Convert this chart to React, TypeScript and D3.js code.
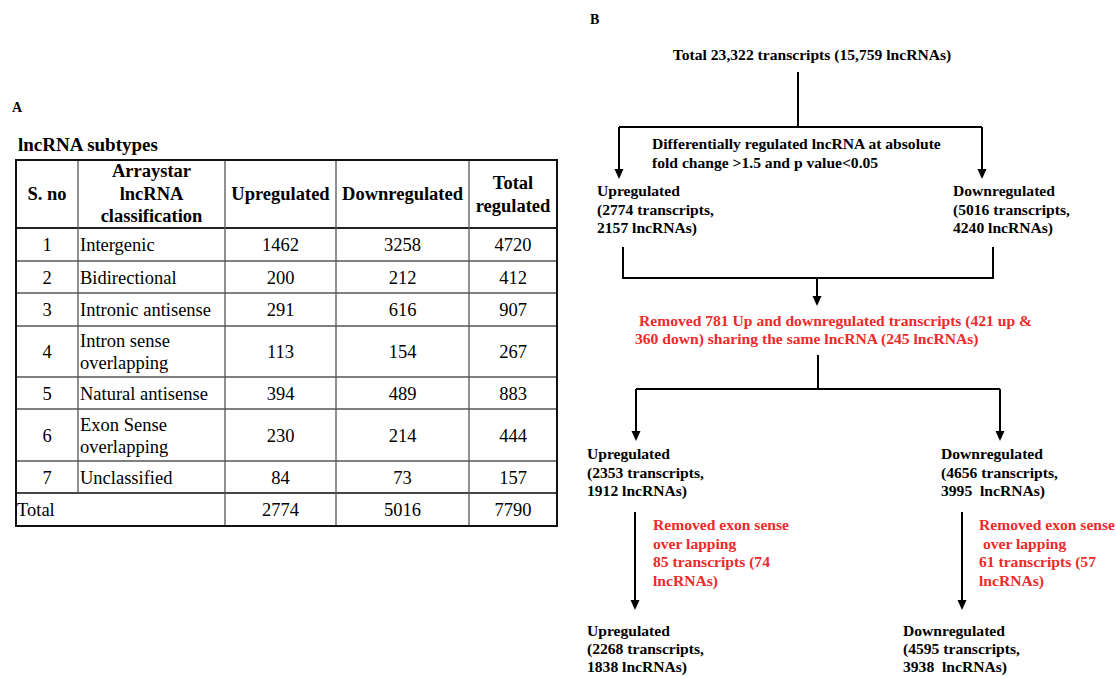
import React from "react";
import * as d3 from "d3";

// ---- Table A data ----
const serialNumbers = ["1", "2", "3", "4", "5", "6", "7"];
const classifications = [
  ["Intergenic"],
  ["Bidirectional"],
  ["Intronic antisense"],
  ["Intron sense", "overlapping"],
  ["Natural antisense"],
  ["Exon Sense", "overlapping"],
  ["Unclassified"],
];
const upregulated = [1462, 200, 291, 113, 394, 230, 84];
const downregulated = [3258, 212, 616, 154, 489, 214, 73];
const totalRegulated = [4720, 412, 907, 267, 883, 444, 157];
const columnTotals = [2774, 5016, 7790];

// ---- Flowchart B text ----
const rootText = "Total 23,322 transcripts (15,759 lncRNAs)";
const filterText = ["Differentially regulated lncRNA at absolute", "fold change >1.5 and p value<0.05"];
const upStage1 = ["Upregulated", "(2774 transcripts,", "2157 lncRNAs)"];
const downStage1 = ["Downregulated", "(5016 transcripts,", "4240 lncRNAs)"];
const sharedRemoved = [
  "Removed 781 Up and downregulated transcripts (421 up &",
  "360 down) sharing the same lncRNA (245 lncRNAs)",
];
const upStage2 = ["Upregulated", "(2353 transcripts,", "1912 lncRNAs)"];
const downStage2 = ["Downregulated", "(4656 transcripts,", "3995  lncRNAs)"];
const upExonRemoved = ["Removed exon sense", "over lapping", "85 transcripts (74", "lncRNAs)"];
const downExonRemoved = ["Removed exon sense", " over lapping", "61 transcripts (57", "lncRNAs)"];
const upStage3 = ["Upregulated", "(2268 transcripts,", "1838 lncRNAs)"];
const downStage3 = ["Downregulated", "(4595 transcripts,", "3938  lncRNAs)"];

const SERIF = "'Liberation Serif', 'Times New Roman', serif";
const RED = "#ee2a2a";
const FLOW_FS = 15.6;

// Table geometry
const colEdges = [16, 78, 225, 336, 469, 557];
const rowEdges = [160, 228, 261, 293, 326, 377, 409, 461, 493, 526];

const fmt = d3.format("d");

function Lines({ x, y, lines, step, anchor = "start", fill = "#000", size = FLOW_FS, weight = "bold" }: any) {
  return (
    <text x={x} y={y} fontFamily={SERIF} fontSize={size} fontWeight={weight} fill={fill} textAnchor={anchor}>
      {lines.map((l: string, i: number) => (
        <tspan key={i} x={x} y={y + i * step} style={{ whiteSpace: "pre" }}>
          {l}
        </tspan>
      ))}
    </text>
  );
}

function Arrow({ x, y1, y2 }: { x: number; y1: number; y2: number }) {
  const path = d3.path();
  path.moveTo(x, y1);
  path.lineTo(x, y2 - 9);
  const head = d3.path();
  head.moveTo(x - 4.5, y2 - 10);
  head.lineTo(x + 4.5, y2 - 10);
  head.lineTo(x, y2);
  head.closePath();
  return (
    <g>
      <path d={path.toString()} stroke="#000" strokeWidth={2} fill="none" />
      <path d={head.toString()} fill="#000" />
    </g>
  );
}

function Seg({ pts }: { pts: [number, number][] }) {
  const line = d3.line();
  return <path d={line(pts) || ""} stroke="#000" strokeWidth={2} fill="none" />;
}

function TableA() {
  const cx = (i: number) => (colEdges[i] + colEdges[i + 1]) / 2;
  const fs = 18.5;
  return (
    <g fontFamily={SERIF} fontSize={fs}>
      <text x={12} y={112} fontWeight="bold" fontSize={14}>A</text>
      <text x={18} y={151} fontWeight="bold" fontSize={19}>lncRNA subtypes</text>

      {/* inner horizontal rules */}
      {rowEdges.slice(2, rowEdges.length - 1).map((y, i) => (
        <line key={"h" + i} x1={colEdges[0]} x2={colEdges[5]} y1={y} y2={y} stroke="#555" strokeWidth={1.3} />
      ))}
      <line x1={colEdges[0]} x2={colEdges[5]} y1={rowEdges[1]} y2={rowEdges[1]} stroke="#222" strokeWidth={2.2} />
      <line x1={colEdges[0]} x2={colEdges[5]} y1={rowEdges[8]} y2={rowEdges[8]} stroke="#333" strokeWidth={1.6} />
      {/* inner vertical rules */}
      <line x1={colEdges[1]} x2={colEdges[1]} y1={rowEdges[0]} y2={rowEdges[8]} stroke="#555" strokeWidth={1.3} />
      {[2, 3, 4].map((c) => (
        <line key={"v" + c} x1={colEdges[c]} x2={colEdges[c]} y1={rowEdges[0]} y2={rowEdges[9]} stroke="#555" strokeWidth={1.3} />
      ))}
      {/* outer border */}
      <rect x={colEdges[0]} y={rowEdges[0]} width={colEdges[5] - colEdges[0]} height={rowEdges[9] - rowEdges[0]} fill="none" stroke="#111" strokeWidth={2} />

      {/* header */}
      <g fontWeight="bold" textAnchor="middle">
        <text x={cx(0)} y={200}>S. no</text>
        <Lines x={cx(1)} y={177} lines={["Arraystar", "lncRNA", "classification"]} step={22.5} anchor="middle" size={fs} />
        <text x={cx(2)} y={200}>Upregulated</text>
        <text x={cx(3)} y={200}>Downregulated</text>
        <Lines x={cx(4)} y={189} lines={["Total", "regulated"]} step={23} anchor="middle" size={fs} />
      </g>

      {/* body rows */}
      {serialNumbers.map((s, i) => {
        const top = rowEdges[i + 1];
        const bot = rowEdges[i + 2];
        const mid = (top + bot) / 2 + 6.5;
        const cls = classifications[i];
        return (
          <g key={s}>
            <text x={cx(0)} y={mid} textAnchor="middle">{s}</text>
            {cls.length === 1 ? (
              <text x={80} y={mid}>{cls[0]}</text>
            ) : (
              <Lines x={80} y={mid - 11} lines={cls} step={22} size={fs} weight="normal" />
            )}
            <text x={cx(2)} y={mid} textAnchor="middle">{fmt(upregulated[i])}</text>
            <text x={cx(3)} y={mid} textAnchor="middle">{fmt(downregulated[i])}</text>
            <text x={cx(4)} y={mid} textAnchor="middle">{fmt(totalRegulated[i])}</text>
          </g>
        );
      })}
      {/* totals row */}
      <text x={17} y={(rowEdges[8] + rowEdges[9]) / 2 + 6.5}>Total</text>
      {columnTotals.map((v, i) => (
        <text key={i} x={cx(i + 2)} y={(rowEdges[8] + rowEdges[9]) / 2 + 6.5} textAnchor="middle">{fmt(v)}</text>
      ))}
    </g>
  );
}

function FlowB() {
  const step = 18.5;
  return (
    <g>
      <text x={590} y={24} fontFamily={SERIF} fontWeight="bold" fontSize={14}>B</text>
      <text x={812} y={60} fontFamily={SERIF} fontWeight="bold" fontSize={FLOW_FS} textAnchor="middle">{rootText}</text>

      <Seg pts={[[798, 72], [798, 127]]} />
      <Seg pts={[[619, 127], [982, 127]]} />
      <Arrow x={619} y1={127} y2={179} />
      <Arrow x={982} y1={127} y2={179} />
      <Lines x={652} y={149} lines={filterText} step={19} />

      <Lines x={597} y={196} lines={upStage1} step={step} />
      <Lines x={953} y={196} lines={downStage1} step={step} />

      <Seg pts={[[623, 247], [623, 278], [993, 278], [993, 247]]} />
      <Arrow x={817} y1={278} y2={306} />
      <Lines x={639} y={326} lines={[sharedRemoved[0]]} step={step} fill={RED} />
      <Lines x={635} y={344} lines={[sharedRemoved[1]]} step={step} fill={RED} />

      <Seg pts={[[818, 355], [818, 389]]} />
      <Seg pts={[[636, 389], [1000, 389]]} />
      <Arrow x={636} y1={389} y2={441} />
      <Arrow x={1000} y1={389} y2={441} />

      <Lines x={587} y={459} lines={upStage2} step={step} />
      <Lines x={941} y={459} lines={downStage2} step={step} />

      <Arrow x={635} y1={512} y2={610} />
      <Arrow x={962} y1={512} y2={610} />
      <Lines x={653} y={530} lines={upExonRemoved} step={step} fill={RED} />
      <Lines x={979} y={530} lines={downExonRemoved} step={step} fill={RED} />

      <Lines x={587} y={636} lines={upStage3} step={18} />
      <Lines x={903} y={636} lines={downStage3} step={18} />
    </g>
  );
}

export default function App() {
  return (
    <svg
      width={1116}
      height={677}
      viewBox="0 0 1116 677"
      style={{ position: "absolute", left: 0, top: 0, background: "#fff" }}
    >
      <rect width={1116} height={677} fill="#fff" />
      <TableA />
      <FlowB />
    </svg>
  );
}
